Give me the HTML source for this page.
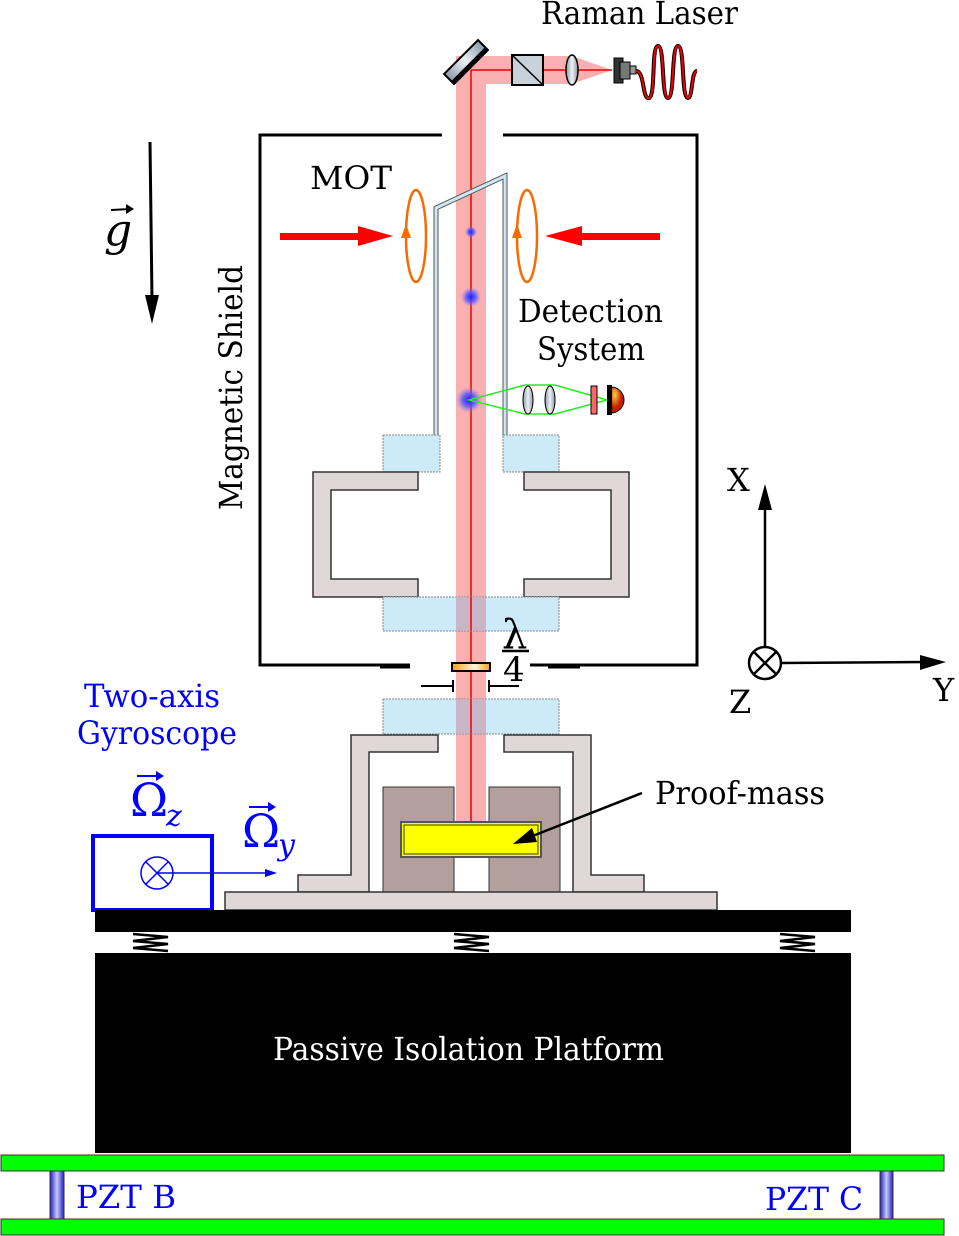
<!DOCTYPE html>
<html><head><meta charset="utf-8"><style>
html,body{margin:0;padding:0;background:#fff;}
svg{display:block;}
text{font-family:"DejaVu Serif","Liberation Serif",serif;}
</style></head><body>
<svg width="959" height="1236" viewBox="0 0 959 1236" xmlns="http://www.w3.org/2000/svg">
<defs>
<linearGradient id="gl" x1="0" x2="1"><stop offset="0" stop-color="#8a9aa8"/><stop offset=".5" stop-color="#eef2f5"/><stop offset="1" stop-color="#8a9aa8"/></linearGradient>
<linearGradient id="wp" x1="0" x2="1"><stop offset="0" stop-color="#f5a020"/><stop offset=".6" stop-color="#fff4e0"/><stop offset="1" stop-color="#f5a020"/></linearGradient>
<linearGradient id="pz" x1="0" x2="1"><stop offset="0" stop-color="#2020c0"/><stop offset=".5" stop-color="#c8c8ff"/><stop offset="1" stop-color="#2020c0"/></linearGradient>
<radialGradient id="at"><stop offset="0" stop-color="#2020ff"/><stop offset=".5" stop-color="#5050ff" stop-opacity=".8"/><stop offset="1" stop-color="#8080ff" stop-opacity="0"/></radialGradient>
<radialGradient id="det" cx=".3" cy=".3"><stop offset="0" stop-color="#ffd040"/><stop offset="1" stop-color="#c02000"/></radialGradient>
</defs>

<text x="541" y="24" font-size="32" textLength="197" lengthAdjust="spacingAndGlyphs">Raman Laser</text>
<rect x="456" y="56" width="116" height="28" fill="#f9b0b0"/>
<polygon points="572,56 612,70 572,84" fill="#f9b0b0"/>
<rect x="456" y="62" width="30" height="760" fill="#f9b0b0"/>
<line x1="471" y1="70" x2="471" y2="822" stroke="#e00" stroke-width="1.5"/>
<line x1="471" y1="70" x2="612" y2="70" stroke="#e00" stroke-width="1.5"/>
<g transform="translate(466,62) rotate(-45)"><rect x="-24" y="-7" width="48" height="14" fill="url(#gl)" stroke="#000" stroke-width="2"/><rect x="-24" y="3" width="48" height="5" fill="#000"/></g>
<rect x="512" y="55" width="31" height="30" fill="#c8d2da" stroke="#000" stroke-width="2"/>
<line x1="512" y1="55" x2="543" y2="85" stroke="#000" stroke-width="1.5"/>
<ellipse cx="572" cy="70" rx="6" ry="15" fill="url(#gl)" stroke="#000" stroke-width="1.5"/>
<rect x="614" y="58" width="9" height="25" fill="#333" stroke="#000"/>
<rect x="620" y="62" width="10" height="17" fill="#777" stroke="#000"/>
<rect x="630" y="66" width="6" height="8" fill="#999" stroke="#000"/>
<path d="M636,71 C645,71 642,100 649,98 C656,96 651,46 658,46 C665,46 661,98 668,98 C675,98 671,46 678,46 C685,46 681,98 688,98 C693,98 691,71 697,71" fill="none" stroke="#000" stroke-width="4"/>
<path d="M636,71 C645,71 642,100 649,98 C656,96 651,46 658,46 C665,46 661,98 668,98 C675,98 671,46 678,46 C685,46 681,98 688,98 C693,98 691,71 697,71" fill="none" stroke="#e00" stroke-width="2"/>

<path d="M442,135 H260 V665 H410" fill="none" stroke="#000" stroke-width="3"/>
<path d="M503,135 H697 V665 H530" fill="none" stroke="#000" stroke-width="3"/>
<text x="310" y="189" font-size="32" textLength="82" lengthAdjust="spacingAndGlyphs">MOT</text>
<text transform="translate(242,510) rotate(-90)" font-size="32" textLength="245" lengthAdjust="spacingAndGlyphs">Magnetic Shield</text>

<line x1="150" y1="142" x2="152" y2="300" stroke="#000" stroke-width="3"/>
<polygon points="145,295 159,295 152,324" fill="#000"/>
<text x="104" y="245" font-size="44" font-style="italic" font-family="Liberation Serif">g</text>
<line x1="111" y1="210" x2="131" y2="209" stroke="#000" stroke-width="2"/>
<polygon points="126,204 134,209 126,214" fill="#000"/>

<rect x="280" y="233" width="80" height="7" fill="#f00"/>
<polygon points="358,226 393,236 358,246" fill="#f00"/>
<rect x="580" y="233" width="80" height="7" fill="#f00"/>
<polygon points="582,226 545,236 582,246" fill="#f00"/>
<ellipse cx="416" cy="236" rx="10" ry="46" fill="none" stroke="#f76b00" stroke-width="2.5"/>
<ellipse cx="527" cy="236" rx="10" ry="46" fill="none" stroke="#f76b00" stroke-width="2.5"/>
<polygon points="401,238 406,224 411,238" fill="#f76b00"/>
<polygon points="512,238 517,224 522,238" fill="#f76b00"/>

<path d="M436,436 V208 L505,176 V436" fill="none" stroke="#555" stroke-width="5"/>
<path d="M436,436 V208 L505,176 V436" fill="none" stroke="#cde8f5" stroke-width="3"/>
<rect x="383" y="435" width="57" height="37" fill="#cdeaf8" stroke="#888" stroke-dasharray="2,1"/>
<rect x="503" y="435" width="56" height="37" fill="#cdeaf8" stroke="#888" stroke-dasharray="2,1"/>
<path d="M313,472 H418 V490 H331 V579 H418 V597 H313 Z" fill="#e0d8d8" stroke="#333" stroke-width="1.5"/>
<path d="M629,472 H524 V490 H611 V579 H524 V597 H629 Z" fill="#e0d8d8" stroke="#333" stroke-width="1.5"/>
<rect x="383" y="597" width="176" height="34" fill="#cdeaf8" stroke="#888" stroke-dasharray="2,1"/>
<rect x="456" y="597" width="30" height="34" fill="#c8a8b8" opacity=".8"/>
<line x1="471" y1="597" x2="471" y2="631" stroke="#e00" stroke-width="1.5"/>

<circle cx="471" cy="232" r="6" fill="url(#at)"/>
<circle cx="471" cy="297" r="10" fill="url(#at)"/>
<circle cx="469" cy="400" r="13" fill="url(#at)"/>

<path d="M469,400 L525,385 H555 L607,400 L555,414 H525 Z" fill="none" stroke="#2e2" stroke-width="1.5"/>
<ellipse cx="528" cy="400" rx="5" ry="14" fill="url(#gl)" stroke="#000"/>
<ellipse cx="550" cy="400" rx="5" ry="14" fill="url(#gl)" stroke="#000"/>
<rect x="591" y="386" width="6" height="28" fill="#f66" stroke="#000"/>
<path d="M611,387 A13,13 0 0 1 611,413 Z" fill="url(#det)" stroke="#000"/>
<rect x="607" y="385" width="5" height="30" fill="#000"/>
<text x="518" y="322" font-size="32" textLength="145" lengthAdjust="spacingAndGlyphs">Detection</text>
<text x="537" y="360" font-size="32" textLength="108" lengthAdjust="spacingAndGlyphs">System</text>

<rect x="452" y="663" width="38" height="8" fill="url(#wp)" stroke="#000" stroke-width="2"/>
<line x1="380" y1="667" x2="410" y2="667" stroke="#000" stroke-width="3"/>
<line x1="548" y1="667" x2="580" y2="667" stroke="#000" stroke-width="3"/>
<path d="M421,686 H453 M453,680 V692 M489,680 V692 M489,686 H519" stroke="#000" stroke-width="2"/>
<text x="502" y="648" font-size="40" font-family="Liberation Serif">λ</text>
<line x1="502" y1="651" x2="529" y2="651" stroke="#000" stroke-width="2.5"/>
<text x="503" y="681" font-size="34" font-family="Liberation Sans">4</text>

<line x1="765" y1="648" x2="765" y2="500" stroke="#000" stroke-width="2.5"/>
<polygon points="758,510 765,484 772,510" fill="#000"/>
<line x1="780" y1="663" x2="925" y2="662" stroke="#000" stroke-width="2.5"/>
<polygon points="920,655 946,662 920,670" fill="#000"/>
<circle cx="765" cy="663" r="16" fill="none" stroke="#000" stroke-width="2.5"/>
<path d="M754,652 L776,674 M776,652 L754,674" stroke="#000" stroke-width="2.5"/>
<text x="727" y="491" font-size="32">X</text>
<text x="933" y="701" font-size="32">Y</text>
<text x="729" y="713" font-size="32">Z</text>

<text x="84" y="707" font-size="32" fill="#00f" textLength="136" lengthAdjust="spacingAndGlyphs">Two-axis</text>
<text x="77" y="744" font-size="32" fill="#00f" textLength="160" lengthAdjust="spacingAndGlyphs">Gyroscope</text>

<rect x="383" y="699" width="176" height="35" fill="#cdeaf8" stroke="#888" stroke-dasharray="2,1"/>
<rect x="456" y="699" width="30" height="35" fill="#c8a8b8" opacity=".8"/>
<line x1="471" y1="699" x2="471" y2="734" stroke="#e00" stroke-width="1.5"/>
<path d="M351,735 H438 V752 H369 V892 H298 V875 H351 Z" fill="#e0d8d8" stroke="#333" stroke-width="1.5"/>
<path d="M591,735 H504 V752 H573 V892 H644 V875 H591 Z" fill="#e0d8d8" stroke="#333" stroke-width="1.5"/>
<rect x="383" y="787" width="71" height="105" fill="#b3a09c" stroke="#333"/>
<rect x="489" y="787" width="71" height="105" fill="#b3a09c" stroke="#333"/>
<rect x="401" y="822" width="140" height="35" fill="#ff0" stroke="#555" stroke-width="2"/>
<rect x="404" y="825" width="134" height="29" fill="none" stroke="#333" stroke-width="1"/>
<rect x="225" y="892" width="492" height="18" fill="#e0d8d8" stroke="#333" stroke-width="1.5"/>
<line x1="642" y1="793" x2="530" y2="837" stroke="#000" stroke-width="2.5"/>
<polygon points="513,844 532,828 537,842" fill="#000"/>
<text x="655" y="804" font-size="32" textLength="170" lengthAdjust="spacingAndGlyphs">Proof-mass</text>

<rect x="93" y="836" width="119" height="74" fill="#fff" stroke="#00f" stroke-width="4"/>
<circle cx="157" cy="873" r="16" fill="none" stroke="#00f" stroke-width="1.5"/>
<path d="M146,862 L168,884 M168,862 L146,884" stroke="#00f" stroke-width="1.5"/>
<line x1="157" y1="873" x2="268" y2="873" stroke="#00f" stroke-width="1.5"/>
<polygon points="265,869 277,873 265,877" fill="#00f"/>
<text x="130" y="816" font-size="46" fill="#00f" font-family="Liberation Serif">Ω</text>
<text x="166" y="826" font-size="30" fill="#00f" font-style="italic" font-family="Liberation Serif">z</text>
<line x1="137" y1="776" x2="160" y2="776" stroke="#00f" stroke-width="2"/>
<polygon points="156,771 164,776 156,781" fill="#00f"/>
<text x="242" y="847" font-size="46" fill="#00f" font-family="Liberation Serif">Ω</text>
<text x="278" y="855" font-size="30" fill="#00f" font-style="italic" font-family="Liberation Serif">y</text>
<line x1="249" y1="807" x2="272" y2="807" stroke="#00f" stroke-width="2"/>
<polygon points="268,802 276,807 268,812" fill="#00f"/>

<rect x="95" y="910" width="756" height="22" fill="#000"/>
<g stroke="#000" stroke-width="2.5" fill="none">
<path d="M133,934 L168,937 L133,941 L168,944 L133,948 L168,951"/>
<path d="M454,934 L489,937 L454,941 L489,944 L454,948 L489,951"/>
<path d="M780,934 L815,937 L780,941 L815,944 L780,948 L815,951"/>
</g>
<rect x="95" y="953" width="756" height="200" fill="#000"/>
<text x="273" y="1060" font-size="32" fill="#fff" textLength="391" lengthAdjust="spacingAndGlyphs">Passive Isolation Platform</text>

<rect x="1" y="1155" width="943" height="16" fill="#0f0" stroke="#333"/>
<rect x="1" y="1219" width="943" height="16" fill="#0f0" stroke="#333"/>
<rect x="50" y="1171" width="14" height="48" fill="url(#pz)" stroke="#333"/>
<rect x="880" y="1171" width="13" height="48" fill="url(#pz)" stroke="#333"/>
<text x="76" y="1208" font-size="32" fill="#00f" textLength="100" lengthAdjust="spacingAndGlyphs">PZT B</text>
<text x="765" y="1210" font-size="32" fill="#00f" textLength="98" lengthAdjust="spacingAndGlyphs">PZT C</text>
</svg>
</body></html>
